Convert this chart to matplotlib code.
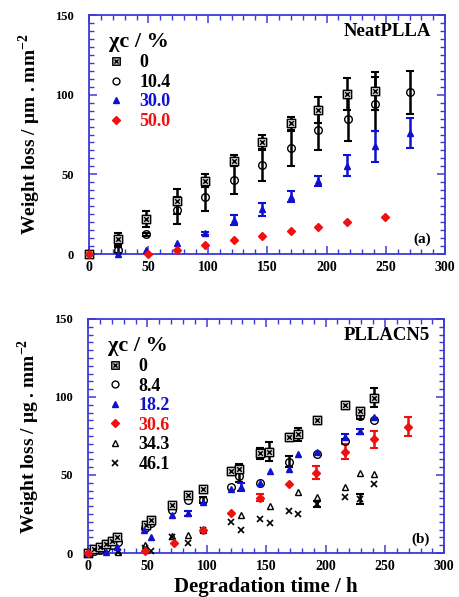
import numpy as np
import matplotlib
matplotlib.use("Agg")
import matplotlib.pyplot as plt
from matplotlib.path import Path
from matplotlib.lines import Line2D

plt.rcParams['font.family'] = ['Liberation Serif', 'DejaVu Serif']
plt.rcParams['font.weight'] = 'bold'
plt.rcParams['mathtext.fontset'] = 'custom'
plt.rcParams['mathtext.rm'] = 'Liberation Serif:bold'
plt.rcParams['mathtext.bf'] = 'Liberation Serif:bold'

# ---------------- data: (a) Neat PLLA ----------------
a_labels = ["0", "10.4", "30.0", "50.0"]
a0_t = [0, 24, 48, 74, 98, 122, 146, 170, 193, 217, 241]
a0_w = [0, 9.4, 22, 33, 46, 58.5, 70, 82, 90.5, 100.5, 102.5]
a0_e = [0, 4, 5, 8, 4, 3.5, 5, 4, 8, 10, 12]
a1_t = [0, 24, 48, 74, 98, 122, 146, 170, 193, 218, 241, 270]
a1_w = [0, 2.5, 12.5, 27.5, 36, 46.5, 56, 66.5, 78, 85, 94, 101.5]
a1_e = [0, 2, 1, 8.5, 9, 9, 10, 11, 12.5, 14, 17, 13.5]
a2_t = [24, 48, 74, 98, 122, 146, 170, 193, 217, 241, 270]
a2_w = [0, 2.5, 7, 13, 21.5, 28, 36, 46, 55.5, 67.5, 76]
a2_e = [0, 0, 0, 1, 3, 4, 3.5, 3, 6.5, 9.5, 9.5]
a3_t = [0, 50, 74, 98, 122, 146, 170, 193, 217, 249]
a3_w = [0, 0, 2.5, 5.5, 9, 11.5, 14.5, 17, 20, 23.5]

# ---------------- data: (b) PLLA CN5 ----------------
b_labels = ["0", "8.4", "18.2", "30.6", "34.3", "46.1"]
b0_t = [0, 5, 10, 15, 20, 24.5, 49, 53, 71, 84.5, 96.5, 120, 127, 145, 152, 169, 177, 193, 216.5, 229, 241]
b0_w = [0, 2.5, 4, 6, 8, 10, 18, 21, 31, 37, 41, 52.5, 54, 64, 65, 74.5, 76, 85, 95, 91, 99.5]
b0_e = [0, 0, 0, 0, 0, 0, 0, 0, 0, 2, 0, 0, 3, 3.5, 6, 1.5, 4, 0, 0, 2, 6]
b1_t = [0, 5, 10, 15, 20, 25, 48, 53, 71, 84.5, 96.5, 120, 127, 145, 169, 193, 216.5, 229, 241]
b1_w = [0, 1, 2, 3, 5, 7, 16, 19, 27.5, 34, 34, 42.5, 49.5, 45, 58.5, 63.5, 72, 88, 85.5]
b1_e = [0, 0, 0, 0, 0, 0, 0, 0, 0, 0, 2, 0, 4, 0, 3.5, 0, 0, 2, 0]
b2_t = [0, 15, 24.5, 47, 53, 71, 84.5, 96.5, 120, 129, 145, 153, 169, 177, 193, 216.5, 229, 241]
b2_w = [0, 0.5, 4, 14.5, 10, 24.5, 25.5, 33, 41, 42.5, 45, 52.5, 54, 63.5, 65, 74.5, 78, 87]
b2_e = [0, 0, 0, 0, 0, 0, 1.5, 0, 0, 2.5, 0, 0, 0, 0, 0, 1.5, 1.5, 0]
b3_t = [0, 48, 72.5, 96.5, 120, 145, 169, 192, 216.5, 241, 269]
b3_w = [0, 1.5, 6.5, 15, 25.5, 35.5, 44.5, 51.5, 65, 73, 81]
b3_e = [0, 0, 0, 0, 0, 2, 0, 4, 5, 5.5, 6]
b4_t = [25, 48, 71, 84.5, 96.5, 129, 153, 177, 193, 216.5, 229, 241]
b4_w = [0.5, 5, 11, 11.5, 15, 24.5, 30, 39, 36, 42.5, 51, 50.5]
b5_t = [0, 25, 48, 53, 71, 84.5, 96.5, 120, 129, 145, 153, 169, 177, 193, 216.5, 229, 241]
b5_w = [0, 0.5, 3, 1.5, 10, 6.5, 14.5, 20, 14.5, 21.5, 19.5, 27, 25, 31.5, 36, 34.5, 44.5]
b5_e = [0, 0, 0, 0, 0, 0, 0, 0, 0, 0, 0, 0, 0, 2, 0, 3, 0]

x_ticks = [0, 50, 100, 150, 200, 250, 300]
y_ticks = [0, 50, 100, 150]

# ---------------- styles ----------------
FRAME = '#3a3ad6'
BLUE = '#1010d0'
RED = '#f01010'
GRAY = '#c8c8c8'

sqx = Path([(-1, -1), (1, -1), (1, 1), (-1, 1), (-1, -1),
            (-0.55, -0.55), (0.55, 0.55), (-0.55, 0.55), (0.55, -0.55)],
           [Path.MOVETO, Path.LINETO, Path.LINETO, Path.LINETO, Path.CLOSEPOLY,
            Path.MOVETO, Path.LINETO, Path.MOVETO, Path.LINETO])

fig = plt.figure(figsize=(4.59, 5.97), dpi=100)
ax1 = fig.add_axes([0.194, 0.5745, 0.776, 0.4003])
ax2 = fig.add_axes([0.192, 0.0737, 0.776, 0.392])


def errbars(ax, t, w, e, color):
    t = np.asarray(t, float); w = np.asarray(w, float); e = np.asarray(e, float)
    m = e > 0
    if m.any():
        ax.errorbar(t[m], w[m], yerr=e[m], fmt='none', ecolor=color,
                    elinewidth=1.8, capsize=3, capthick=1.5, zorder=2)


def series(ax, t, w, marker, mfc, mec, ms, mew=1.0):
    ax.plot(t, w, linestyle='none', marker=marker, ms=ms, mfc=mfc, mec=mec,
            mew=mew, zorder=3, clip_on=False)
    return Line2D([], [], linestyle='none', marker=marker, ms=ms * 0.9,
                  mfc=mfc, mec=mec, mew=mew)


def style_axes(ax, ylabel):
    ax.set_xlim(0, 300)
    ax.set_ylim(0, 150)
    ax.set_xticks(x_ticks)
    ax.set_yticks(y_ticks)
    ax.set_xticks(np.arange(0, 301, 10), minor=True)
    ax.set_yticks(np.arange(0, 151, 5), minor=True)
    for s in ax.spines.values():
        s.set_color(FRAME)
        s.set_linewidth(1.3)
    ax.tick_params(which='both', direction='in', top=True, right=True,
                   color=FRAME)
    ax.tick_params(which='major', length=6, width=1.1)
    ax.tick_params(which='minor', length=3.5, width=1.0)
    ax.tick_params(axis='x', labelsize=10, pad=5)
    ax.tick_params(axis='y', labelsize=9, pad=11)
    for lab in ax.get_xticklabels() + ax.get_yticklabels():
        lab.set_fontweight('bold')
    ax.set_ylabel(ylabel, fontsize=14, fontweight='bold', labelpad=9)


def make_legend(ax, handles, labels, colors, loc_y):
    leg = ax.legend(handles, labels, title='χc / %', loc='upper left',
                    bbox_to_anchor=(0.025, loc_y), frameon=False,
                    prop={'size': 13, 'weight': 'bold'},
                    title_fontproperties={'size': 16, 'weight': 'bold'},
                    alignment='left', handlelength=0.8, handletextpad=0.9,
                    labelspacing=0.14, borderaxespad=0.2)
    for txt, c in zip(leg.get_texts(), colors):
        txt.set_color(c)
    return leg


# ---------------- panel (a) ----------------
errbars(ax1, a0_t, a0_w, a0_e, 'k')
errbars(ax1, a1_t, a1_w, a1_e, 'k')
errbars(ax1, a2_t, a2_w, a2_e, BLUE)
h0 = series(ax1, a1_t, a1_w, 'o', 'none', 'k', 5.5)
hA0 = series(ax1, a0_t, a0_w, sqx, GRAY, 'k', 6)
hA2 = series(ax1, a2_t, a2_w, '^', BLUE, BLUE, 5)
hA3 = series(ax1, a3_t, a3_w, 'D', RED, RED, 4.2)
style_axes(ax1, 'Weight loss / μm . mm$^{-2}$')
make_legend(ax1, [hA0, h0, hA2, hA3], a_labels, ['k', 'k', BLUE, RED], 0.975)
ax1.text(0.96, 0.93, 'NeatPLLA', transform=ax1.transAxes, ha='right',
         va='center', fontsize=13.5, fontweight='bold')
ax1.text(0.96, 0.06, '(a)', transform=ax1.transAxes, ha='right',
         va='center', fontsize=11, fontweight='bold')

# ---------------- panel (b) ----------------
errbars(ax2, b0_t, b0_w, b0_e, 'k')
errbars(ax2, b1_t, b1_w, b1_e, 'k')
errbars(ax2, b2_t, b2_w, b2_e, BLUE)
errbars(ax2, b3_t, b3_w, b3_e, RED)
errbars(ax2, b5_t, b5_w, b5_e, 'k')
hB4 = series(ax2, b4_t, b4_w, '^', 'none', 'k', 5)
hB5 = series(ax2, b5_t, b5_w, 'x', 'k', 'k', 5, 1.2)
hB1 = series(ax2, b1_t, b1_w, 'o', 'none', 'k', 5.5)
hB0 = series(ax2, b0_t, b0_w, sqx, GRAY, 'k', 6)
hB2 = series(ax2, b2_t, b2_w, '^', BLUE, BLUE, 5)
hB3 = series(ax2, b3_t, b3_w, 'D', RED, RED, 4.2)
style_axes(ax2, 'Weight loss / μg . mm$^{-2}$')
make_legend(ax2, [hB0, hB1, hB2, hB3, hB4, hB5], b_labels,
            ['k', 'k', BLUE, RED, 'k', 'k'], 0.975)
ax2.text(0.96, 0.93, 'PLLACN5', transform=ax2.transAxes, ha='right',
         va='center', fontsize=13.5, fontweight='bold')
ax2.text(0.96, 0.06, '(b)', transform=ax2.transAxes, ha='right',
         va='center', fontsize=11, fontweight='bold')
ax2.set_xlabel('Degradation time / h', fontsize=15, fontweight='bold',
               labelpad=3)

fig.savefig('out.png', dpi=100)
